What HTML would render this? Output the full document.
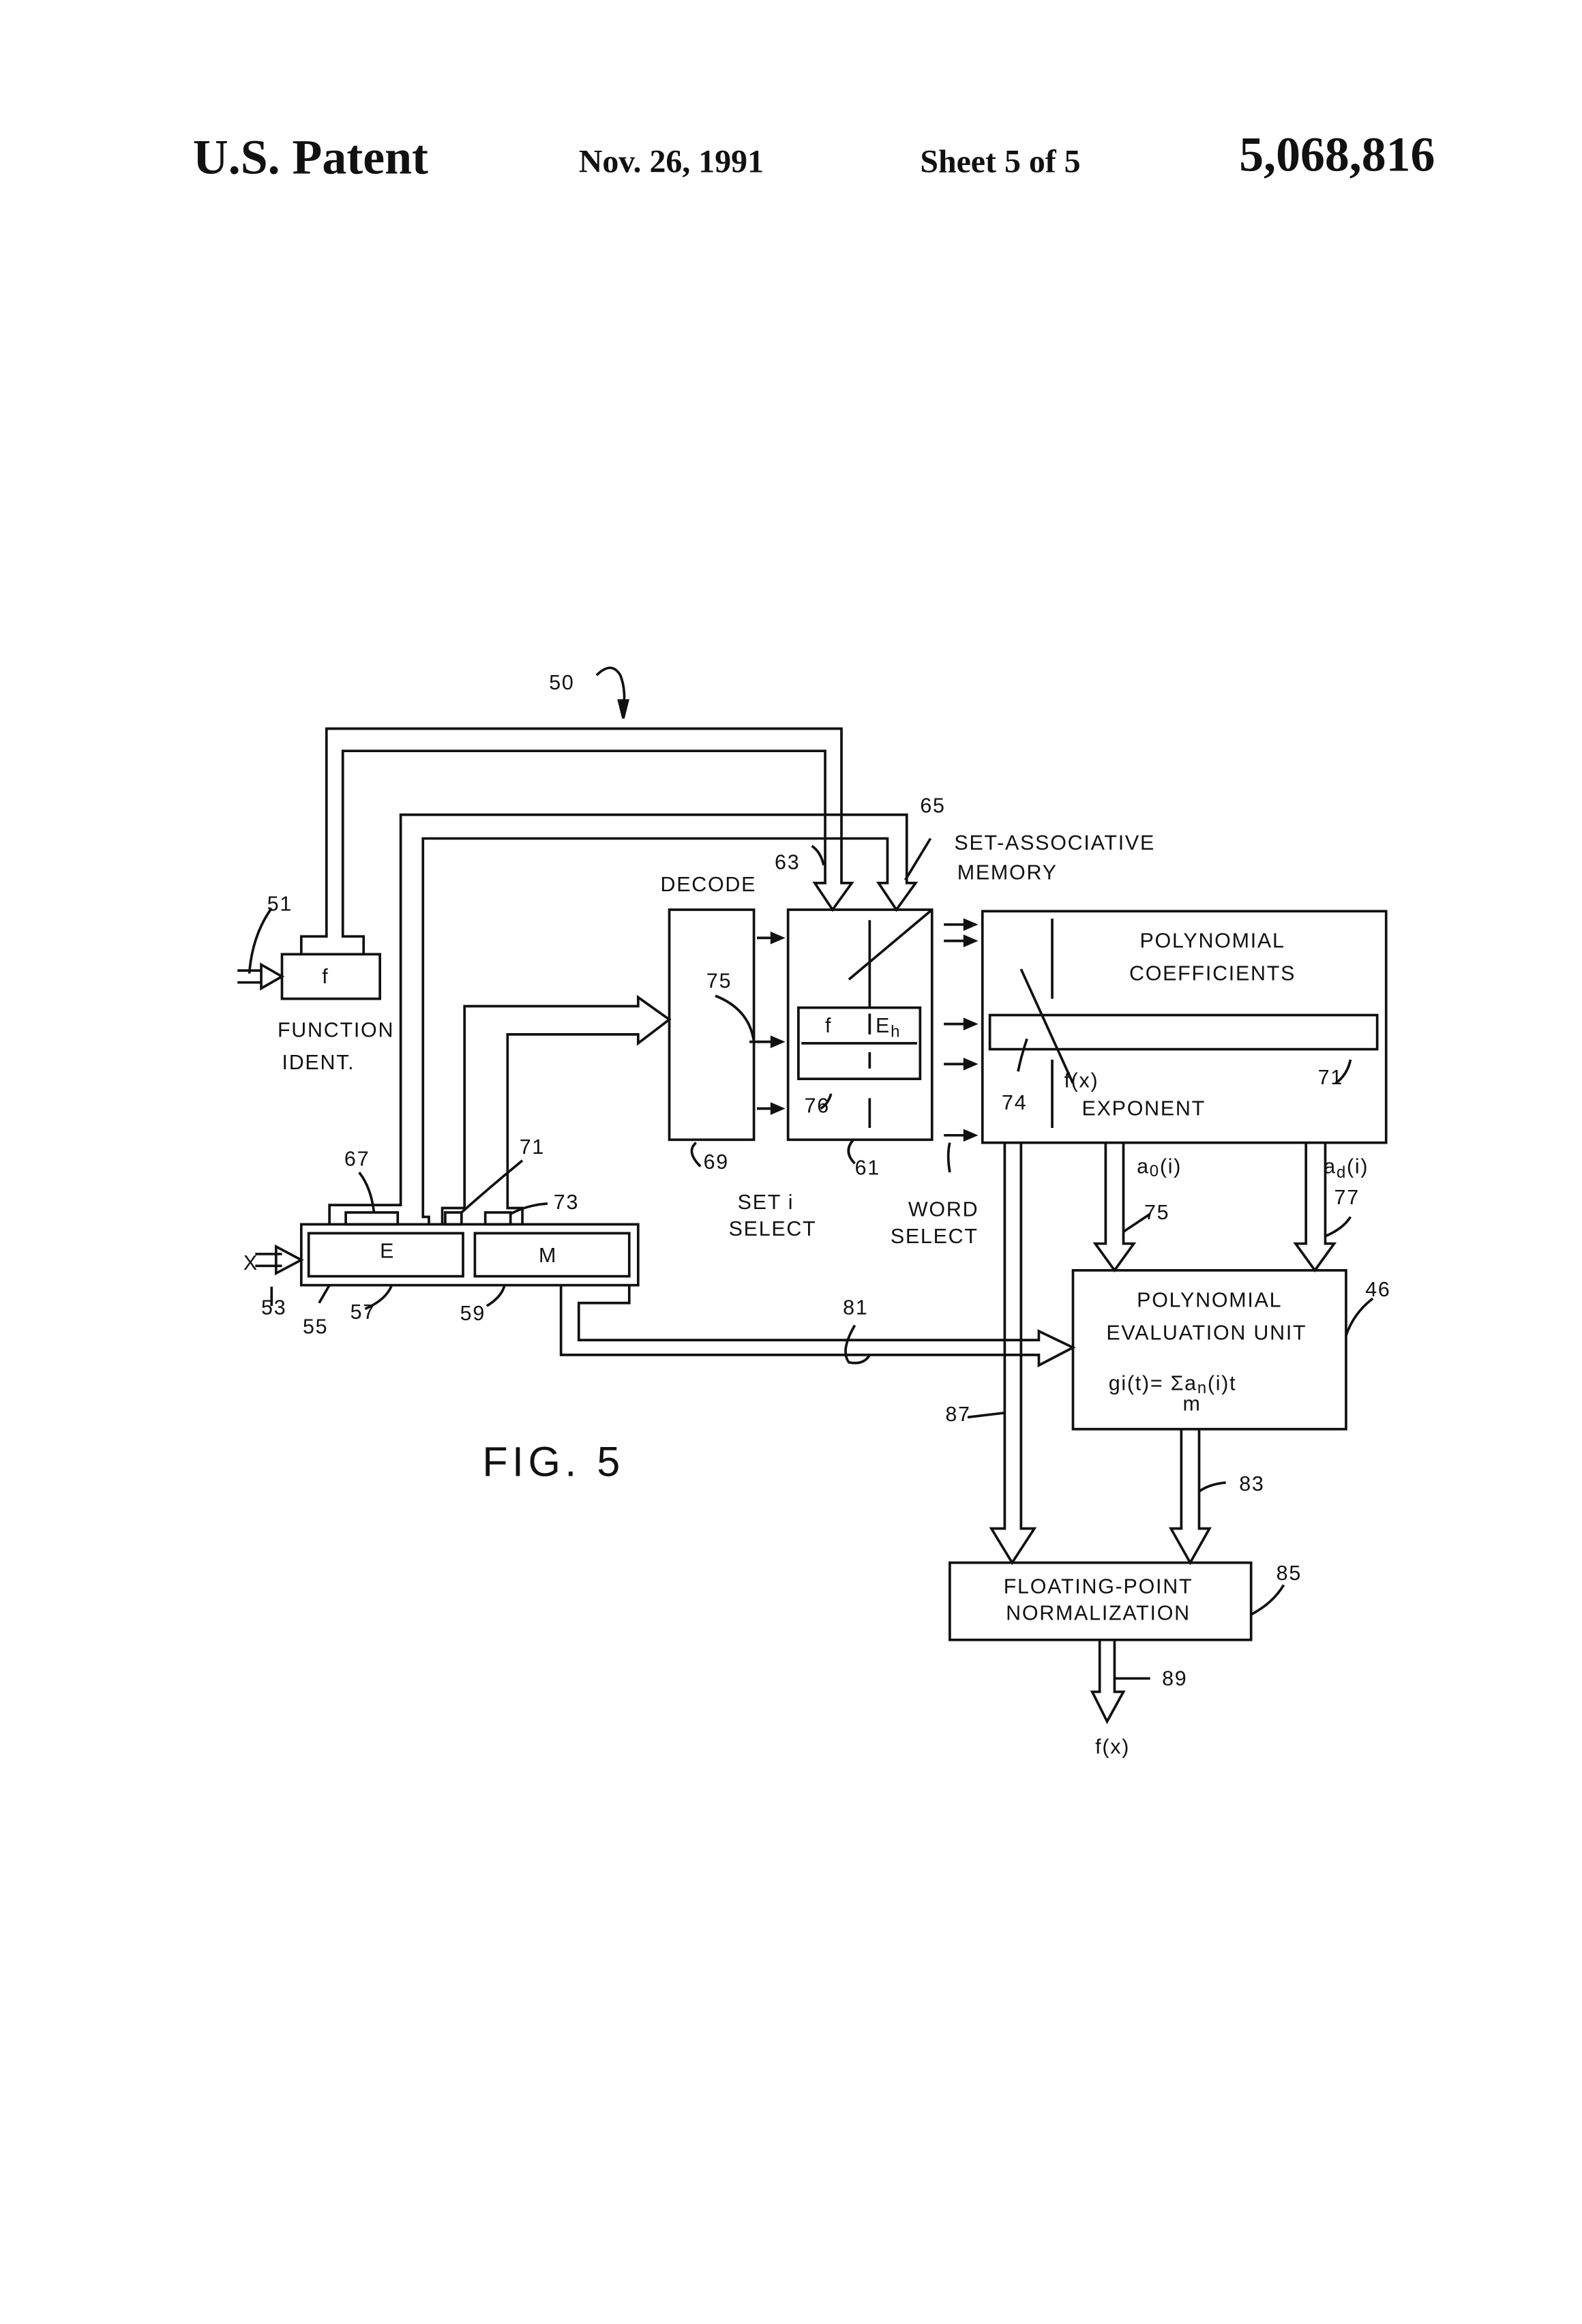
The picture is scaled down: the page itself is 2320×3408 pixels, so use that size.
<!DOCTYPE html>
<html><head><meta charset="utf-8"><style>
html,body{margin:0;padding:0;background:#fff;}
svg{display:block;}
text{font-family:"Liberation Sans",sans-serif;fill:#111;dominant-baseline:central;}
.h{font-family:"Liberation Serif",serif;font-weight:bold;dominant-baseline:alphabetic;}
.l{font-size:14px;letter-spacing:0.8px;}
</style></head><body>
<svg width="2320" height="3408" viewBox="0 0 1066 1566" preserveAspectRatio="none" xmlns="http://www.w3.org/2000/svg">
<g fill="none" stroke="#111" stroke-width="1.7" stroke-linejoin="miter">
<path d="M203 643 V631 H220 V491 H567 V595 H574 L561 613 L549 595 H556 V506 H231 V631 H245 V643"/>
<path d="M222 825 V812 H270 V549 H611 V595 H617 L604 613 L592 595 H598 V565 H285 V820 H289 V825"/>
<rect x="233" y="817" width="35" height="8"/>
<rect x="190" y="643" width="66" height="30"/>
<path d="M160 654 H176 M160 662 H176 M176 650 L190 658 L176 666 Z"/>
<path d="M183 612 Q170 630 168 656"/>
<path d="M298 825 V814 H313 V678 H430 V672 L451 687 L430 703 V697 H342 V814 H352 V825"/>
<rect x="300" y="817" width="11" height="8"/>
<rect x="327" y="817" width="17" height="8"/>
<rect x="203" y="825" width="227" height="41"/>
<rect x="208" y="831" width="104" height="29"/>
<rect x="320" y="831" width="104" height="29"/>
<path d="M172 845 H190 M172 853 H190 M186 840 L203 849 L186 858 Z"/>
<path d="M378 866 V913 H700 V920 L723 908 L700 897 V903 H390 V878 H424 V866"/>
<rect x="451" y="613" width="57" height="155"/>
<rect x="531" y="613" width="97" height="155"/>
<rect x="538" y="679" width="82" height="48"/>
<path d="M540 703 H618"/>
<path d="M586 620 V679 M586 683 V697 M586 709 V720 M586 740 V760"/>
<path d="M510 632 H525 M510 702 H525 M510 747 H525"/>
<path d="M520 629 L527 632 L520 635 Z M520 699 L527 702 L520 705 Z M520 744 L527 747 L520 750 Z" fill="#111"/>
<path d="M636 623 H656 M636 634 H656 M636 690 H656 M636 717 H656 M636 765 H656"/>
<path d="M650 620 L657 623 L650 626 Z M650 631 L657 634 L650 637 Z M650 687 L657 690 L650 693 Z M650 714 L657 717 L650 720 Z M650 762 L657 765 L650 768 Z" fill="#111"/>
<rect x="662" y="614" width="272" height="156"/>
<rect x="667" y="684" width="261" height="23"/>
<path d="M709 619 V673 M709 714 V760"/>
<path d="M628 613 L572 660"/>
<path d="M627 565 L610 593"/>
<path d="M688 653 L723 730"/>
<path d="M686 722 Q688 712 692 700"/>
<path d="M900 730 Q908 724 910 714"/>
<path d="M640 770 Q638 778 640 790"/>
<path d="M547 570 Q553 574 555 583"/>
<path d="M482 671 Q505 680 508 702 M505 702 H512"/>
<path d="M560 737 Q558 744 553 747"/>
<path d="M469 770 Q462 776 472 786"/>
<path d="M575 768 Q568 776 576 784"/>
<path d="M677 770 V1030 H668 L682 1053 L697 1030 H688 V770"/>
<path d="M652 955 L677 952"/>
<path d="M745 770 V838 H738 L751 856 L764 838 H757 V770"/>
<path d="M757 830 L775 818"/>
<path d="M880 770 V838 H873 L886 856 L899 838 H893 V770"/>
<path d="M893 833 Q905 828 910 820"/>
<rect x="723" y="856" width="184" height="107"/>
<path d="M907 900 Q912 885 925 875"/>
<path d="M796 963 V1030 H789 L802 1053 L815 1030 H808 V963"/>
<path d="M808 1005 Q815 1000 826 999"/>
<rect x="640" y="1053" width="203" height="52"/>
<path d="M843 1088 Q858 1080 865 1068"/>
<path d="M741 1105 V1140 H736 L746 1160 L757 1140 H751 V1105"/>
<path d="M751 1131 H775"/>
<path d="M242 790 Q250 800 252 817"/>
<path d="M352 782 Q330 800 311 817"/>
<path d="M369 811 Q355 812 344 818"/>
<path d="M183 867 V880"/>
<path d="M215 878 L222 866"/>
<path d="M246 882 Q260 876 264 866"/>
<path d="M328 880 Q338 874 340 866"/>
<path d="M576 893 Q566 910 572 918 Q582 920 586 913"/>
<path d="M402 455 Q412 445 418 455 Q422 465 420 478"/>
<path d="M417 472 L420 484 L423 472 Z" fill="#111"/>
</g>
<g>
<text class="h" x="130" y="117" font-size="33">U.S. Patent</text>
<text class="h" x="390" y="116" font-size="22">Nov. 26, 1991</text>
<text class="h" x="620" y="116" font-size="22">Sheet 5 of 5</text>
<text class="h" x="835" y="115" font-size="33">5,068,816</text>

<text class="l" x="370" y="460">50</text>
<text class="l" x="180" y="609">51</text>
<text class="l" x="217" y="658" font-size="13">f</text>
<text class="l" x="187" y="694">FUNCTION</text>
<text class="l" x="190" y="716">IDENT.</text>
<text class="l" x="445" y="596">DECODE</text>
<text class="l" x="522" y="581">63</text>
<text class="l" x="620" y="543">65</text>
<text class="l" x="643" y="568">SET-ASSOCIATIVE</text>
<text class="l" x="645" y="588">MEMORY</text>
<text class="l" x="476" y="661">75</text>
<text class="l" x="556" y="691">f</text>
<text class="l" x="590" y="691">E<tspan font-size="11" dy="4">h</tspan></text>
<text class="l" x="542" y="745">76</text>
<text class="l" x="474" y="783">69</text>
<text class="l" x="576" y="787">61</text>
<text class="l" x="497" y="810">SET i</text>
<text class="l" x="491" y="828">SELECT</text>
<text class="l" x="612" y="815">WORD</text>
<text class="l" x="600" y="833">SELECT</text>
<text class="l" x="817" y="634" text-anchor="middle">POLYNOMIAL</text>
<text class="l" x="817" y="656" text-anchor="middle">COEFFICIENTS</text>
<text class="l" x="717" y="728">f(x)</text>
<text class="l" x="729" y="747">EXPONENT</text>
<text class="l" x="675" y="743">74</text>
<text class="l" x="888" y="726">71</text>
<text class="l" x="766" y="786">a<tspan font-size="11" dy="3">0</tspan><tspan dy="-3">(i)</tspan></text>
<text class="l" x="892" y="786">a<tspan font-size="11" dy="4">d</tspan><tspan dy="-4">(i)</tspan></text>
<text class="l" x="771" y="817">75</text>
<text class="l" x="899" y="807">77</text>
<text class="l" x="920" y="869">46</text>
<text class="l" x="815" y="876" text-anchor="middle">POLYNOMIAL</text>
<text class="l" x="813" y="898" text-anchor="middle">EVALUATION UNIT</text>
<text class="l" x="747" y="932" font-size="15">gi(t)= Σa<tspan font-size="11" dy="3">n</tspan><tspan dy="-3">(i)t</tspan></text>
<text class="l" x="797" y="946" font-size="11">m</text>
<text class="l" x="568" y="881">81</text>
<text class="l" x="637" y="953">87</text>
<text class="l" x="835" y="1000">83</text>
<text class="l" x="860" y="1060">85</text>
<text class="l" x="740" y="1069" text-anchor="middle">FLOATING-POINT</text>
<text class="l" x="740" y="1087" text-anchor="middle">NORMALIZATION</text>
<text class="l" x="783" y="1131">89</text>
<text class="l" x="738" y="1177">f(x)</text>
<text class="l" x="232" y="781">67</text>
<text class="l" x="350" y="773">71</text>
<text class="l" x="373" y="810">73</text>
<text class="l" x="164" y="851">X</text>
<text class="l" x="176" y="881">53</text>
<text class="l" x="204" y="894">55</text>
<text class="l" x="236" y="884">57</text>
<text class="l" x="310" y="885">59</text>
<text class="l" x="256" y="843">E</text>
<text class="l" x="363" y="846" font-size="12">M</text>
<text x="325" y="985" font-size="28" style="letter-spacing:3px">FIG. 5</text>
</g>
</svg>
</body></html>
